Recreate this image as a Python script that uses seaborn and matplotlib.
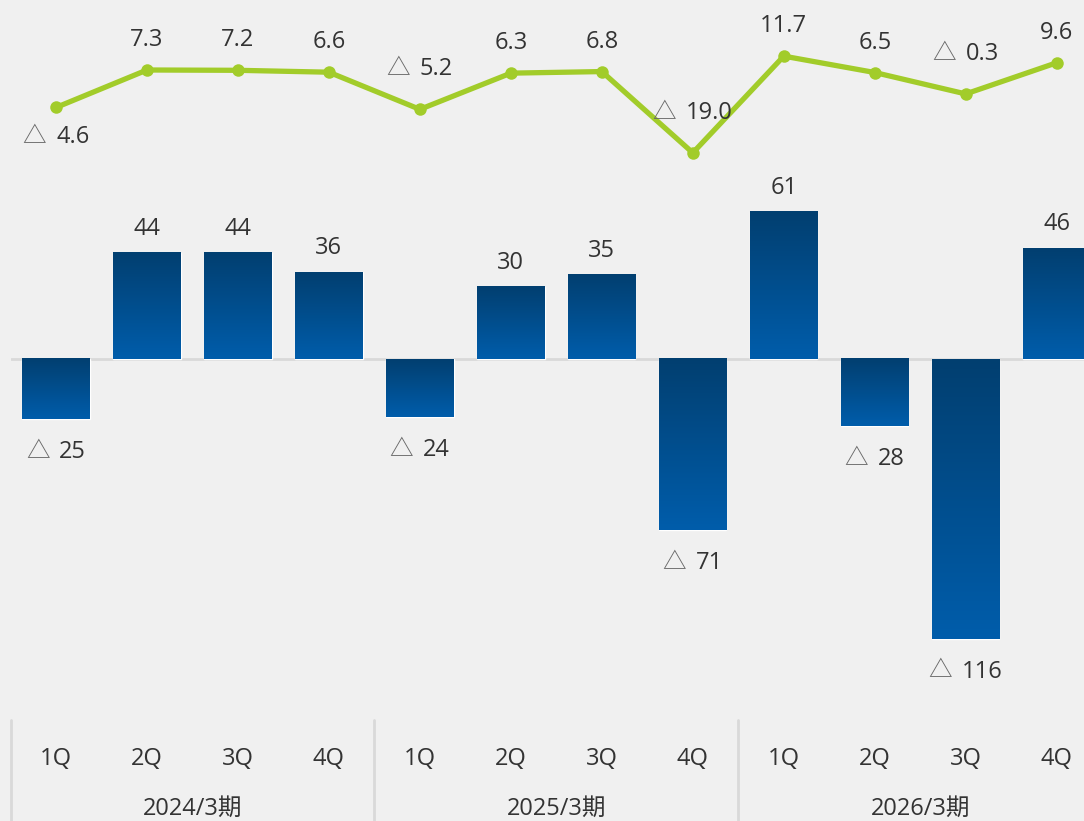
import numpy as np
import pandas as pd
import matplotlib
matplotlib.use('Agg')
import matplotlib.pyplot as plt
import seaborn as sns
from matplotlib.colors import LinearSegmentedColormap
from matplotlib.offsetbox import TextArea, HPacker, AnnotationBbox

# ==========================================
# DATA
# ==========================================
fiscal_years = ['2024/3期', '2025/3期', '2026/3期']
quarters = ['1Q', '2Q', '3Q', '4Q']
bar_values = [-25, 44, 44, 36, -24, 30, 35, -71, 61, -28, -116, 46]
line_values = [-4.6, 7.3, 7.2, 6.6, -5.2, 6.3, 6.8, -19.0, 11.7, 6.5, -0.3, 9.6]

labels = [f'{fy} {q}' for fy in fiscal_years for q in quarters]
df = pd.DataFrame({'period': labels, 'bar': bar_values, 'line': line_values})

# ==========================================
# STYLE
# ==========================================
BG = '#f0f0f0'
DARK_BLUE = '#023f70'
LIGHT_BLUE = '#005dab'
GREEN = '#a2cc2a'
TEXT = '#333333'
TRI = '#666666'
FS = 17

sns.set_style('white')
plt.rcParams['font.family'] = ['Open Sans', 'Noto Sans CJK JP', 'DejaVu Sans']

W, H = 1084, 821
fig = plt.figure(figsize=(W / 100, H / 100), dpi=100, facecolor=BG)
ax = fig.add_axes([10.5 / W, 101 / H, (W - 10.5) / W, 720 / H])
ax.set_facecolor(BG)

# bars
sns.barplot(data=df, x='period', y='bar', color=LIGHT_BLUE, width=0.74,
            saturation=1, ax=ax, zorder=2)

# gradient fill on every bar (dark top -> lighter bottom)
cmap = LinearSegmentedColormap.from_list('blu', [DARK_BLUE, LIGHT_BLUE])
grad = np.linspace(0, 1, 256).reshape(-1, 1)
for p in ax.patches:
    x0, w = p.get_x(), p.get_width()
    y0, y1 = sorted([p.get_y(), p.get_y() + p.get_height()])
    ax.imshow(grad, cmap=cmap, extent=[x0, x0 + w, y0, y1], origin='upper',
              aspect='auto', zorder=3, interpolation='bicubic')

ax.axhline(0, color='#d9d9d9', lw=2, zorder=1)


def neg_label(axis, x, y, dy, fmt):
    box = HPacker(children=[
        TextArea('△', textprops=dict(color=TRI, size=FS)),
        TextArea(fmt.format(abs(y)), textprops=dict(color=TEXT, size=FS)),
    ], sep=7, pad=0, align='baseline')
    ab = AnnotationBbox(box, (x, y), xybox=(0, dy), boxcoords='offset pixels',
                        frameon=False, box_alignment=(0.5, 0.5), zorder=6)
    axis.add_artist(ab)


for i, v in enumerate(bar_values):
    if v >= 0:
        ax.annotate(f'{v}', (i, v), xytext=(0, 24), textcoords='offset pixels',
                    ha='center', va='center', color=TEXT, fontsize=FS)
    else:
        neg_label(ax, i, v, -33, '{:.0f}')

ax.set_ylim(-149.8, 148.96)

# line on twin axis
ax2 = ax.twinx()
sns.lineplot(x=np.arange(len(line_values)), y=line_values, ax=ax2, color=GREEN,
             lw=3.8, marker='o', markersize=9, markeredgewidth=0, zorder=5)
for i, v in enumerate(line_values):
    if v >= 0:
        ax2.annotate(f'{v:.1f}', (i, v), xytext=(0, 30), textcoords='offset pixels',
                     ha='center', va='center', color=TEXT, fontsize=FS)
    else:
        dy = -30 if i == 0 else 40
        neg_label(ax2, i, v, dy, '{:.1f}')
ax2.set_ylim(-199.05, 29.52)

for a in (ax, ax2):
    a.set_xlim(-0.5, 11.3)
    a.set_ylabel('')
    a.set_yticks([])
    for s in a.spines.values():
        s.set_visible(False)

ax.set_xlabel('')
ax.set_xticks(range(len(labels)))
ax.set_xticklabels(quarters * len(fiscal_years), color=TEXT, fontsize=FS)
ax.tick_params(axis='x', length=0, pad=19.5)

# fiscal year group labels and separators
trans = ax.get_xaxis_transform()
for g, fy in enumerate(fiscal_years):
    ax.text(g * 4 + 1.5, -0.123, fy, transform=trans, ha='center', va='center',
            color=TEXT, fontsize=FS)
    ax.plot([g * 4 - 0.5] * 2, [0, -0.15], transform=trans, color='#d9d9d9',
            lw=2, clip_on=False)

fig.savefig('out.png', dpi=100, facecolor=BG)
